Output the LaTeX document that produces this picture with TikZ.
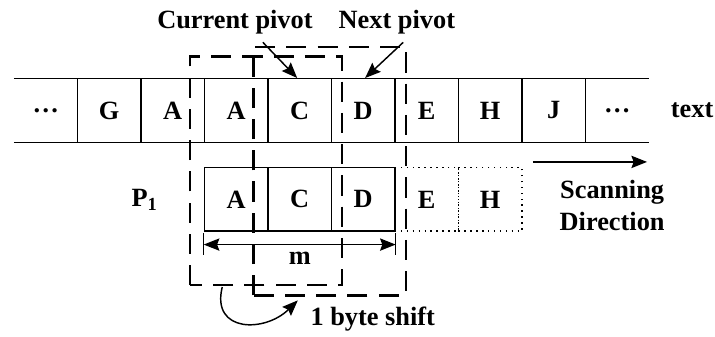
\documentclass[tikz,border=0pt]{standalone}
\usepackage{fontspec}
\setmainfont{Liberation Serif}
\usetikzlibrary{arrows.meta, positioning}

\tikzset{
  lbl/.style={font=\fontsize{11.8}{14.3}\selectfont\bfseries},
  cell/.style={lbl, minimum width=1cm, minimum height=1cm, inner sep=0pt},
  window/.style={line width=1.1pt, dash pattern=on 9pt off 5pt},
}

\begin{document}
\begin{tikzpicture}[line width=0.65pt, >={Stealth[length=7pt,width=5.5pt,inset=1pt]}]
  \useasboundingbox (-0.22,-3.06) rectangle (11.04,2.24);
  % text row
  \draw (0,0) -- (10,0) (0,1) -- (10,1);
  \foreach \i/\t in {0/\ldots, 1/G, 2/A, 3/A, 4/C, 5/D, 6/E, 7/H, 8/J, 9/\ldots} {
    \node[cell] (t\i) at (\i+0.5,0.5) {\t};
  }
  \foreach \i in {1,...,9} \draw (\i,0) -- (\i,1);
  \node[lbl] (txt) at (10.68,0.5) {text};

  % pattern row
  \node[lbl] (pat) at (2.06,-0.9) {P\textsubscript{1}};
  \foreach \i/\t in {6/E, 7/H} \node[cell, draw, dotted] (p\i) at (\i+0.5,-0.9) {\t};
  \foreach \i/\t in {3/A, 4/C, 5/D} \node[cell, draw] (p\i) at (\i+0.5,-0.9) {\t};

  % length m
  \draw[<->] ([yshift=-0.2cm]p3.south west) -- ([yshift=-0.2cm]p5.south east);
  \draw ([yshift=-0.02cm]p3.south west) -- ++(0,-0.34);
  \draw ([yshift=-0.02cm]p5.south east) -- ++(0,-0.34);
  \node[lbl] (m) at (4.5,-1.83) {m};

  % windows
  \draw[window] (2.77,-2.25) rectangle (5.17,1.35);
  \draw[window] (3.77,-2.41) rectangle (6.17,1.5);

  % pivots
  \node[lbl] (cur) at (3.48,1.89) {Current pivot};
  \node[lbl] (nxt) at (6.03,1.89) {Next pivot};
  \draw[->] ([xshift=0.44cm]cur.south) -- ([xshift=-0.04cm]t4.north);
  \draw[->] ([xshift=0.1cm]nxt.south) -- ([xshift=0.03cm]t5.north);

  % scanning direction
  \coordinate (sd0) at (8.17,-0.31);
  \coordinate (sd1) at (9.97,-0.31);
  \draw[->] (sd0) -- (sd1);
  \node[lbl, align=center] (scan) at (9.42,-1.0) {Scanning\\Direction};

  % shift
  \coordinate (sh0) at (3.28,-2.28);
  \coordinate (sh1) at (4.47,-2.49);
  \draw[->] (sh0) .. controls (3.1,-3.0) and (3.95,-3.0) .. (sh1);
  \node[lbl] (shift) at (5.65,-2.79) {1 byte shift};
\end{tikzpicture}
\end{document}
